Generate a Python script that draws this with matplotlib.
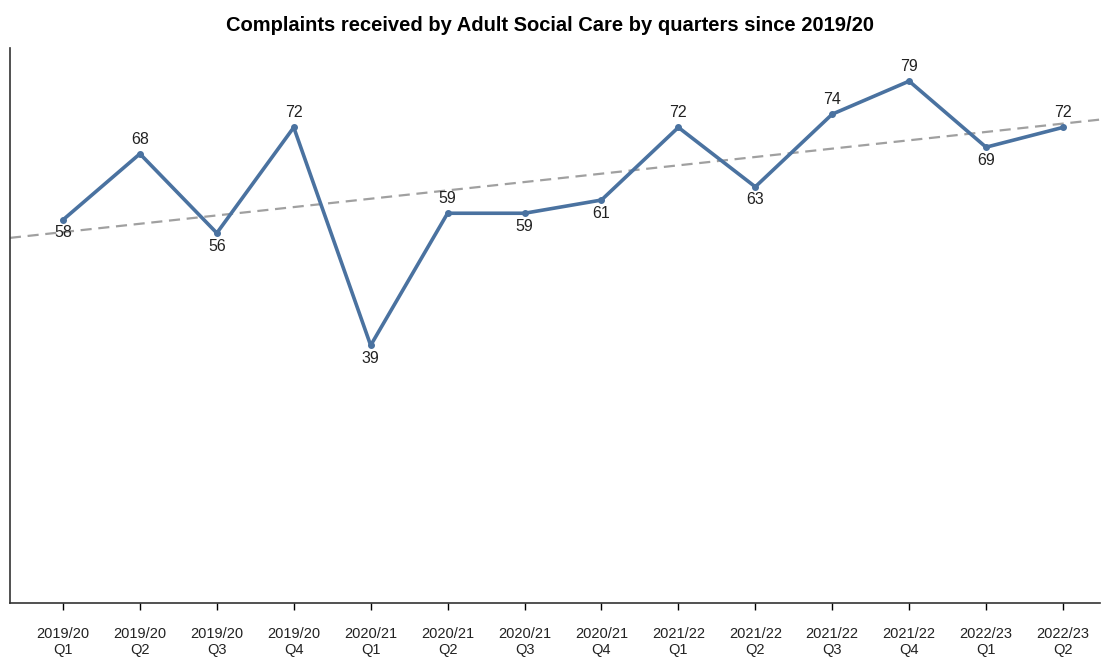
import numpy as np
import matplotlib
matplotlib.use("Agg")
import matplotlib.pyplot as plt

plt.rcParams['font.family'] = ['Liberation Sans', 'DejaVu Sans']

quarters = ["2019/20\nQ1", "2019/20\nQ2", "2019/20\nQ3", "2019/20\nQ4",
            "2020/21\nQ1", "2020/21\nQ2", "2020/21\nQ3", "2020/21\nQ4",
            "2021/22\nQ1", "2021/22\nQ2", "2021/22\nQ3", "2021/22\nQ4",
            "2022/23\nQ1", "2022/23\nQ2"]
complaints = [58, 68, 56, 72, 39, 59, 59, 61, 72, 63, 74, 79, 69, 72]
label_above = [False, True, False, True, False, True, False, False,
               True, False, True, True, False, True]

fig = plt.figure(figsize=(11.01, 6.59), dpi=100)
ax = fig.add_axes([0.009, 0.085, 0.990, 0.842])

x = np.arange(len(complaints))
ax.plot(x, complaints, color='#4a72a0', lw=2.6, marker='o', ms=4, zorder=3)

xlim = (-0.69, 13.48)
coef = np.polyfit(x, complaints, 1)
xt = np.array(xlim)
ax.plot(xt, np.polyval(coef, xt), ls=(0, (5, 3)), color='#a0a0a0', lw=1.6, zorder=2)

for xi, v, up in zip(x, complaints, label_above):
    if up:
        ax.annotate(str(v), (xi, v), xytext=(0, 5), textcoords='offset points',
                    ha='center', va='bottom', fontsize=11.5, color='#222222')
    else:
        ax.annotate(str(v), (xi, v), xytext=(0, -4), textcoords='offset points',
                    ha='center', va='top', fontsize=11.5, color='#222222')

ax.set_xlim(*xlim)
ax.set_ylim(0, 84)
ax.set_xticks(x)
ax.set_xticklabels(quarters, fontsize=10.5, color='#222222')
ax.tick_params(axis='x', length=5, width=1, pad=12, direction='out')
ax.set_yticks([])
for s in ['top', 'right']:
    ax.spines[s].set_visible(False)
for s in ['left', 'bottom']:
    ax.spines[s].set_color('#333333')
    ax.spines[s].set_linewidth(1.2)

fig.suptitle("Complaints received by Adult Social Care by quarters since 2019/20",
             y=0.975, fontsize=14.5, fontweight='bold')

fig.savefig("out.png", dpi=100)
